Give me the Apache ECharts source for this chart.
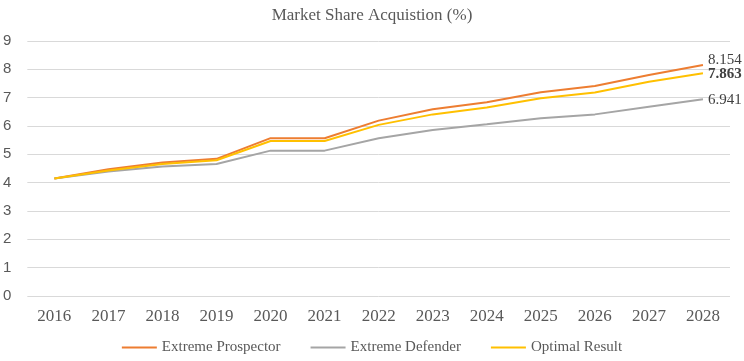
<!DOCTYPE html>
<html>
<head>
<meta charset="utf-8">
<script src="https://cdn.jsdelivr.net/npm/echarts@6/dist/echarts.min.js"></script>
<style>
  html, body { margin: 0; padding: 0; background: #fff; }
  #chart { width: 744px; height: 361px; }
</style>
</head>
<body>
<div id="chart"></div>
<script>
// years on the x axis
const years = ['2016', '2017', '2018', '2019', '2020', '2021', '2022',
               '2023', '2024', '2025', '2026', '2027', '2028'];

// market share values
const prospector = [4.15, 4.47, 4.71, 4.84, 5.57, 5.57, 6.19, 6.59, 6.84, 7.19, 7.41, 7.80, 8.154];
const defender   = [4.15, 4.39, 4.57, 4.66, 5.13, 5.13, 5.57, 5.86, 6.06, 6.27, 6.41, 6.68, 6.941];
const optimal    = [4.15, 4.43, 4.66, 4.79, 5.47, 5.47, 6.04, 6.41, 6.65, 6.98, 7.18, 7.56, 7.863];

const serif = '"Liberation Serif", "DejaVu Serif", serif';
const sans = '"Liberation Sans", "DejaVu Sans", sans-serif';

let chart = echarts.init(document.getElementById('chart'));

// 线条 + 最后一点的标签
function makeLine(name, data, color, bold, dy) {
    return {
        name: name,
        type: 'line',
        data: data,
        symbol: 'none',
        smooth: false,
        lineStyle: { color: color, width: 2 },
        itemStyle: { color: color },
        endLabel: {
            show: true,
            distance: 5,
            offset: [0, dy],
            fontFamily: serif,
            fontSize: 15,
            color: '#404040',
            fontWeight: bold ? 'bold' : 'normal',
            formatter: function (p) { return p.value.toFixed(3); }
        },
        z: bold ? 3 : 2
    };
}

let option = {
    animation: false,
    title: {
        text: 'Market Share Acquistion (%)',
        left: 'center',
        top: 2,
        textStyle: { fontFamily: serif, fontSize: 17, fontWeight: 'normal', color: '#595959' }
    },
    grid: { left: 24, right: 14, top: 41, bottom: 65 },
    legend: {
        bottom: 1,
        left: 'center',
        icon: 'rect',
        itemWidth: 35,
        itemHeight: 2,
        itemGap: 30,
        textStyle: { fontFamily: serif, fontSize: 15, color: '#595959' },
        data: ['Extreme Prospector', 'Extreme Defender', 'Optimal Result']
    },
    xAxis: {
        type: 'category',
        data: years,
        boundaryGap: true,
        axisLine: { show: false },
        axisTick: { show: false },
        axisLabel: { fontFamily: serif, fontSize: 17, color: '#595959', margin: 12 }
    },
    yAxis: {
        type: 'value',
        min: 0,
        max: 9,
        interval: 1,
        axisLine: { show: false },
        axisTick: { show: false },
        axisLabel: { fontFamily: sans, fontSize: 15, color: '#595959', margin: 16 },
        splitLine: { lineStyle: { color: '#d9d9d9', width: 1 } }
    },
    series: [
        makeLine('Extreme Prospector', prospector, '#ED7D31', false, -5),
        makeLine('Extreme Defender', defender, '#A5A5A5', false, 1),
        makeLine('Optimal Result', optimal, '#FFC000', true, 1)
    ]
};

chart.setOption(option);
</script>
</body>
</html>
